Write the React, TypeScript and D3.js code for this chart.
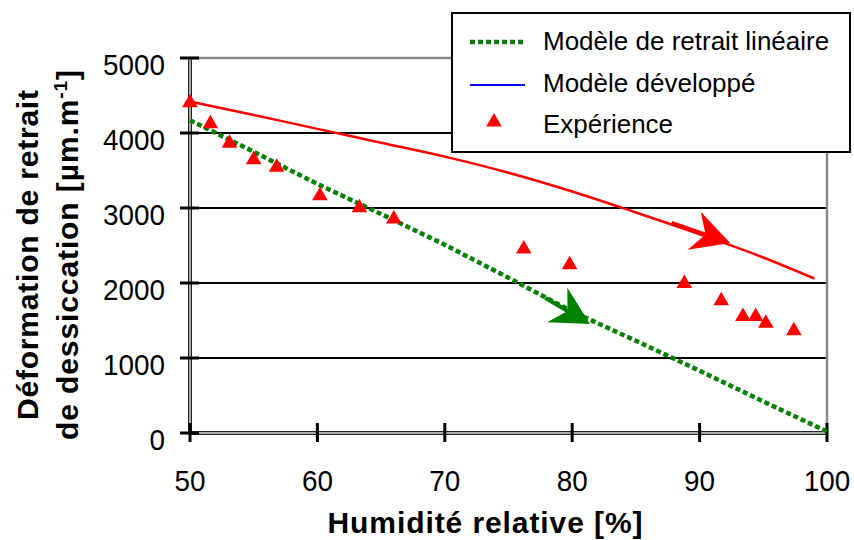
import React from 'react';
import * as d3 from 'd3';

const humidityTicks = [50, 60, 70, 80, 90, 100];
const strainTicks = [0, 1000, 2000, 3000, 4000, 5000];
const gridValues = [1000, 2000, 3000, 4000];

const linearModelRH = [50, 55, 60, 65, 70, 75, 80, 85, 90, 95, 100];
const linearModelStrain = [4170, 3750, 3320, 2920, 2510, 2070, 1620, 1230, 830, 420, 20];

const developedModelRH = [50, 55, 60, 65, 70, 75, 80, 85, 90, 95, 99];
const developedModelStrain = [4420, 4240, 4055, 3870, 3685, 3470, 3220, 2940, 2650, 2340, 2060];

const experimentRH = [50.0, 51.6, 53.1, 55.0, 56.8, 60.2, 63.3, 66.0, 76.2, 79.8, 88.8, 91.7, 93.4, 94.4, 95.2, 97.4];
const experimentStrain = [4430, 4150, 3890, 3670, 3570, 3190, 3030, 2880, 2480, 2270, 2020, 1790, 1580, 1580, 1490, 1390];

const arrowColors = ['#ff0000', '#008000'];
const arrowFromRH = [87.8, 77.9];
const arrowFromStrain = [2800, 1800];
const arrowToRH = [92.4, 81.4];
const arrowToStrain = [2533, 1453];

const legendLabels = ['Modèle de retrait linéaire', 'Modèle développé', 'Expérience'];

const FONT = '"Liberation Sans", Arial, sans-serif';

export default function App() {
  const x = d3.scaleLinear().domain([50, 100]).range([190, 827]);
  const y = d3.scaleLinear().domain([0, 5000]).range([433, 58]);

  const linearData = linearModelRH.map((h, i) => [h, linearModelStrain[i]] as [number, number]);
  const devData = developedModelRH.map((h, i) => [h, developedModelStrain[i]] as [number, number]);
  const line = d3.line<[number, number]>().x(d => x(d[0])).y(d => y(d[1]));
  const smooth = d3.line<[number, number]>().x(d => x(d[0])).y(d => y(d[1])).curve(d3.curveMonotoneX);

  const tri = 'M0,-7L7.8,6.5L-7.8,6.5Z';

  const arrows = arrowColors.map((c, i) => {
    const x0 = x(arrowFromRH[i]), y0 = y(arrowFromStrain[i]);
    const x1 = x(arrowToRH[i]), y1 = y(arrowToStrain[i]);
    const len = Math.hypot(x1 - x0, y1 - y0);
    const ux = (x1 - x0) / len, uy = (y1 - y0) / len;
    const nx = -uy, ny = ux;
    const L = 38, W = 20, N = 26;
    const head = `M${x1},${y1}L${x1 - L * ux + W * nx},${y1 - L * uy + W * ny}L${x1 - N * ux},${y1 - N * uy}L${x1 - L * ux - W * nx},${y1 - L * uy - W * ny}Z`;
    return { c, x0, y0, sx: x1 - N * ux, sy: y1 - N * uy, head };
  });

  const [xl, xr] = x.range();
  const [yb, yt] = y.range();

  return (
    <svg width={854} height={540} style={{ position: 'absolute', left: 0, top: 0, background: '#fff' }} fontFamily={FONT}>
      {/* grid */}
      {gridValues.map(v => (
        <line key={v} x1={xl} x2={xr} y1={y(v)} y2={y(v)} stroke="#000" strokeWidth={2} />
      ))}
      {/* plot border (top & right) */}
      <line x1={xl} x2={xr} y1={yt} y2={yt} stroke="#888" strokeWidth={2.5} />
      <line x1={xr} x2={xr} y1={yt} y2={yb} stroke="#888" strokeWidth={2.5} />

      {/* axes */}
      <line x1={xl} x2={xl} y1={yt} y2={yb} stroke="#222" strokeWidth={4} />
      <line x1={xl} x2={xl} y1={yt} y2={yb} stroke="#aaa" strokeWidth={2} />
      <line x1={xl} x2={xr} y1={yb} y2={yb} stroke="#222" strokeWidth={4} />
      <line x1={xl} x2={xr} y1={yb} y2={yb} stroke="#aaa" strokeWidth={2} />

      {strainTicks.map(v => (
        <g key={v}>
          <line x1={180} x2={199} y1={y(v)} y2={y(v)} stroke="#000" strokeWidth={3} />
          <text x={165} y={y(v) + 17} textAnchor="end" fontSize={30} fill="#000"
            textLength={String(v).length * 15.5} lengthAdjust="spacingAndGlyphs">{v}</text>
        </g>
      ))}
      {humidityTicks.map(v => (
        <g key={v}>
          <line x1={x(v)} x2={x(v)} y1={423} y2={442} stroke="#000" strokeWidth={3} />
          <text x={x(v)} y={491} textAnchor="middle" fontSize={30} fill="#000"
            textLength={String(v).length * 15.5} lengthAdjust="spacingAndGlyphs">{v}</text>
        </g>
      ))}

      {/* series */}
      <path d={smooth(devData) || ''} fill="none" stroke="#ff0000" strokeWidth={2.5} />
      <path d={line(linearData) || ''} fill="none" stroke="#008000" strokeWidth={4.5} strokeDasharray="5 3" />
      {experimentRH.map((h, i) => (
        <path key={i} d={tri} transform={`translate(${x(h)},${y(experimentStrain[i])})`} fill="#ff0000" />
      ))}

      {/* arrows */}
      {arrows.map((a, i) => (
        <g key={i}>
          <line x1={a.x0} y1={a.y0} x2={a.sx} y2={a.sy} stroke={a.c} strokeWidth={4} />
          <path d={a.head} fill={a.c} />
        </g>
      ))}

      {/* axis titles */}
      <text x={485} y={533} textAnchor="middle" fontSize={30} fontWeight="bold" textLength={315} lengthAdjust="spacing">Humidité relative [%]</text>
      <text transform="translate(38,255) rotate(-90)" textAnchor="middle" fontSize={30} fontWeight="bold" textLength={330} lengthAdjust="spacing">Déformation de retrait</text>
      <text transform="translate(78,255) rotate(-90)" textAnchor="middle" fontSize={30} fontWeight="bold" textLength={370} lengthAdjust="spacing">
        de dessiccation [µm.m<tspan fontSize={19} dy={-11}>-1</tspan><tspan dy={11}>]</tspan>
      </text>

      {/* legend */}
      <rect x={452} y={13} width={398} height={139} fill="#fff" stroke="#000" strokeWidth={2} />
      <line x1={470} x2={524} y1={42} y2={42} stroke="#008000" strokeWidth={4.5} strokeDasharray="5 3" />
      <line x1={470} x2={525} y1={85} y2={85} stroke="#0000ff" strokeWidth={2} />
      <path d={tri} transform="translate(494,120)" fill="#ff0000" />
      {legendLabels.map((t, i) => (
        <text key={t} x={543} y={50 + i * 41.5} fontSize={26} fill="#000">{t}</text>
      ))}
    </svg>
  );
}
